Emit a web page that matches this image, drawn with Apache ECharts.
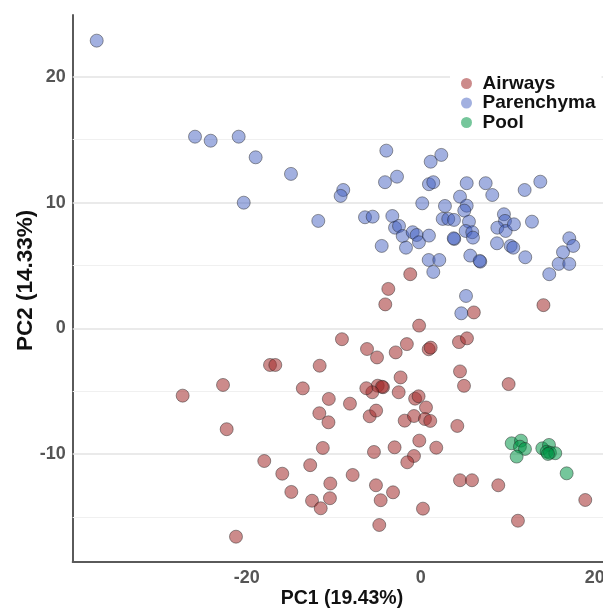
<!DOCTYPE html>
<html>
<head>
<meta charset="utf-8">
<script src="https://cdn.jsdelivr.net/npm/echarts@6/dist/echarts.min.js"></script>
<style>
html,body{margin:0;padding:0;background:#fff;}
#chart{width:603px;height:609px;}
</style>
</head>
<body>
<div id="chart"></div>
<script>
const seriesNames = ['Airways', 'Parenchyma', 'Pool'];
const xTickLabels = [-20, 0, 20];
const yTickLabels = [-10, 0, 10, 20];
const gridY = [-15, -10, -5, 0, 5, 10, 15, 20];
const xTitle = 'PC1 (19.43%)';
const yTitle = 'PC2 (14.33%)';

const airways = [
  [-1.20,4.30],[-3.72,3.13],[-4.07,1.90],[-0.18,0.21],[6.11,1.26],[14.11,1.84],
  [-1.59,-1.26],[0.92,-1.67],[1.15,-1.54],[-2.87,-1.92],[-5.02,-2.32],[4.40,-1.10],
  [5.32,-0.80],[4.52,-3.43],[4.98,-4.58],[10.11,-4.44],[-2.31,-3.91],[-4.94,-4.57],
  [-4.33,-4.69],[-4.45,-4.65],[-5.56,-5.09],[-6.25,-4.77],[-2.53,-5.09],[-0.64,-5.60],
  [-0.24,-5.41],[0.61,-6.30],[-9.05,-0.87],[-6.17,-1.65],[-11.61,-2.98],[-13.55,-4.78],
  [-10.56,-5.62],[-8.13,-6.00],[-11.65,-6.76],[-10.60,-7.48],[-5.86,-7.00],[-5.12,-6.55],
  [-1.84,-7.35],[-0.77,-6.98],[0.49,-7.22],[1.10,-7.37],[4.21,-7.77],[-11.25,-9.52],
  [-5.37,-9.84],[-3.00,-9.47],[-0.16,-8.94],[1.79,-9.50],[-0.77,-10.16],[-1.54,-10.66],
  [-12.70,-10.89],[-7.82,-11.67],[-10.39,-12.35],[-5.14,-12.49],[-3.18,-13.05],[4.52,-12.09],
  [5.90,-12.09],[8.92,-12.49],[-12.49,-13.72],[-10.43,-13.52],[-11.49,-14.32],[-4.60,-13.68],
  [0.26,-14.35],[-4.76,-15.65],[11.18,-15.31],[18.92,-13.66],[-27.36,-5.36],[-22.72,-4.51],
  [-22.30,-8.03],[-17.32,-2.92],[-16.71,-2.92],[-17.98,-10.56],[-15.91,-11.57],[-14.87,-13.02],
  [-21.23,-16.58]
];

const parenchyma = [
  [-37.24,22.88],[-25.94,15.24],[-24.14,14.92],[-20.92,15.24],[-18.97,13.60],[-14.91,12.28],
  [-20.34,9.99],[-8.90,11.00],[-9.20,10.53],[-11.77,8.54],[-6.40,8.83],[-5.52,8.88],
  [-4.10,11.62],[-4.48,6.55],[-3.95,14.13],[-2.72,12.06],[-3.26,8.93],[-2.95,8.00],
  [-2.49,8.14],[-2.07,7.34],[-0.92,7.64],[-0.46,7.42],[-0.20,6.84],[-1.69,6.41],
  [0.18,9.94],[1.15,13.25],[2.37,13.79],[0.95,11.46],[1.45,11.62],[0.95,7.37],
  [0.92,5.43],[2.14,5.43],[1.45,4.48],[2.79,9.73],[2.53,8.70],[3.17,8.70],
  [3.83,8.62],[4.52,10.47],[5.29,9.75],[5.01,9.36],[5.29,11.54],[7.47,11.54],
  [8.23,10.60],[5.55,8.48],[5.17,7.74],[5.93,7.64],[6.01,7.21],[3.86,7.10],
  [3.80,7.16],[5.70,5.78],[6.85,5.30],[6.78,5.36],[5.21,2.57],[9.57,9.07],
  [9.69,8.54],[8.81,8.00],[9.77,7.74],[10.72,8.27],[8.77,6.76],[10.34,6.55],
  [10.64,6.41],[12.02,5.65],[11.95,11.00],[13.75,11.66],[12.79,8.48],[17.08,7.16],
  [17.54,6.55],[16.36,6.05],[15.86,5.12],[17.08,5.12],[14.78,4.30],[4.67,1.19]
];

const pool = [
  [10.46,-9.15],[11.53,-8.94],[11.41,-9.42],[11.99,-9.60],[11.03,-10.21],[13.98,-9.55],
  [14.75,-9.28],[14.48,-9.82],[14.86,-9.90],[15.47,-9.94],[14.63,-10.00],[16.78,-11.54]
];

const FONT = '"Liberation Sans", Arial, Helvetica, sans-serif';
const chart = echarts.init(document.getElementById('chart'), null, {renderer: 'canvas'});

function pointSeries(name, data, fill) {
  return {
    name: name,
    type: 'scatter',
    data: data,
    symbol: 'circle',
    symbolSize: 13,
    z: 3,
    itemStyle: {color: fill, borderColor: 'rgba(30,30,30,0.55)', borderWidth: 1},
    emphasis: {disabled: true}
  };
}

const option = {
  backgroundColor: '#ffffff',
  animation: false,
  grid: {left: 72.7, top: 15, bottom: 47.3, right: -8.2, containLabel: false, outerBoundsMode: 'none'},
  legend: {
    data: seriesNames,
    orient: 'vertical',
    left: 450,
    top: 69,
    z: 10,
    padding: [5, 6, 5, 11],
    backgroundColor: '#ffffff',
    icon: 'circle',
    itemWidth: 22,
    itemHeight: 11,
    itemGap: 0.5,
    itemStyle: {borderWidth: 0},
    textStyle: {fontFamily: FONT, fontSize: 19, fontWeight: 'bold', color: '#111', lineHeight: 18, padding: [0,0,0,0]},
    selectedMode: false
  },
  xAxis: {
    type: 'value',
    min: -40,
    max: 21.9,
    name: xTitle,
    nameLocation: 'middle',
    nameGap: 27,
    nameMoveOverlap: false,
    nameTextStyle: {fontFamily: FONT, fontSize: 19.5, fontWeight: 'bold', color: '#111'},
    axisLine: {show: true, onZero: false, lineStyle: {color: '#5a5a5a', width: 2}},
    axisTick: {show: false},
    splitLine: {show: false},
    axisLabel: {customValues: xTickLabels, fontFamily: FONT, fontSize: 18, fontWeight: 'bold', color: '#555', margin: 7}
  },
  yAxis: {
    type: 'value',
    min: -18.57,
    max: 24.92,
    name: yTitle,
    nameLocation: 'middle',
    nameGap: 35,
    nameMoveOverlap: false,
    nameRotate: 90,
    nameTextStyle: {fontFamily: FONT, fontSize: 22.5, fontWeight: 'bold', color: '#111', padding: [0, 0, 0, 16]},
    axisLine: {show: true, onZero: false, lineStyle: {color: '#5a5a5a', width: 2}},
    axisTick: {show: false},
    splitLine: {show: false},
    axisLabel: {customValues: yTickLabels, fontFamily: FONT, fontSize: 18, fontWeight: 'bold', color: '#555', margin: 7}
  },
  series: [
    {
      name: 'grid',
      type: 'scatter',
      data: [],
      z: 1,
      silent: true,
      markLine: {
        silent: true,
        z: 1,
        symbol: ['none', 'none'],
        label: {show: false},
        animation: false,
        data: gridY.map(v => ({
          yAxis: v,
          lineStyle: {color: (v % 10 === 0) ? '#e3e3e3' : '#f0f0f0', width: (v % 10 === 0) ? 1.6 : 1.2, type: 'solid'}
        }))
      }
    },
    pointSeries('Airways', airways, 'rgba(160,40,40,0.68)'),
    pointSeries('Parenchyma', parenchyma, 'rgba(60,90,190,0.6)'),
    pointSeries('Pool', pool, 'rgba(0,150,70,0.68)')
  ]
};
chart.setOption(option);
</script>
</body>
</html>
